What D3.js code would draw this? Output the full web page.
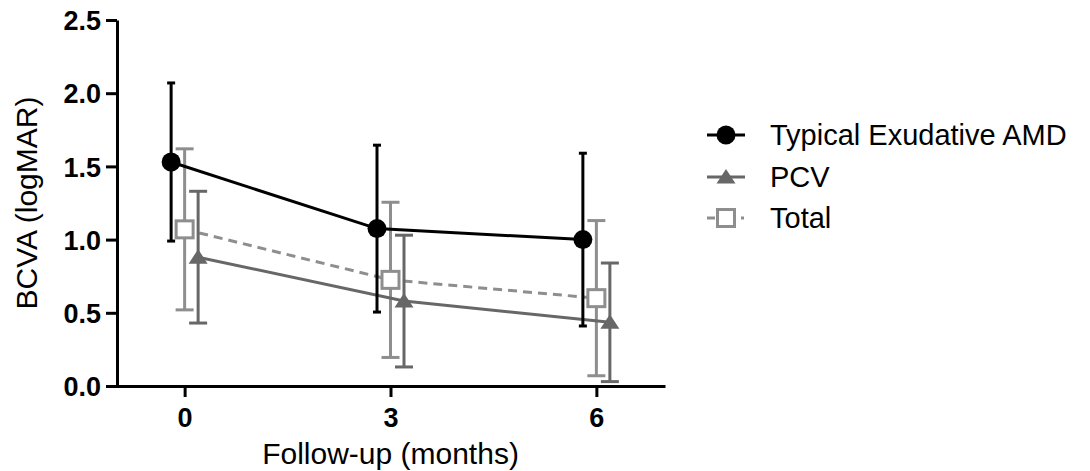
<!DOCTYPE html>
<html>
<head>
<meta charset="utf-8">
<script src="https://cdn.jsdelivr.net/npm/d3@7"></script>
<style>
	body { margin: 0; background: #fff; }
	svg { display: block; font-family: "Liberation Sans", Arial, sans-serif; }
</style>
</head>
<body>
<div id="chart"></div>
<script>
'use strict'
// data (mean +/- SD, logMAR)
var months = [0, 3, 6];
var xTicks = [0, 3, 6];
var yTicks = [0, 0.5, 1.0, 1.5, 2.0, 2.5];
var seriesNames = ["Typical Exudative AMD", "PCV", "Total"];
var typicalMean = [1.53, 1.075, 1.0];
var typicalSD = [0.54, 0.57, 0.59];
var pcvMean = [0.88, 0.58, 0.435];
var pcvSD = [0.45, 0.45, 0.405];
var totalMean = [1.07, 0.725, 0.6];
var totalSD = [0.55, 0.53, 0.53];

var W = 1090, H = 471;
var svg = d3.select("#chart").append("svg")
			.attr("width", W)
			.attr("height", H);

var x = d3.scaleLinear().domain([-1, 7]).range([116, 665]),
	y = d3.scaleLinear().domain([0, 2.5]).range([386, 20]);

// draw order: Total, PCV, Typical on top
var series = [
	{name: seriesNames[2], mean: totalMean, sd: totalSD, color: "#8e8e8e", dx: 0, cap: 18, dash: "9,6", marker: "square"},
	{name: seriesNames[1], mean: pcvMean, sd: pcvSD, color: "#676767", dx: 13.5, cap: 18, dash: null, marker: "triangle"},
	{name: seriesNames[0], mean: typicalMean, sd: typicalSD, color: "#000", dx: -13.5, cap: 8, dash: null, marker: "circle"}
];

function drawMarker(g, kind, color){
	if(kind === "circle"){
		g.append("circle").attr("r", 9.5).attr("fill", color);
	}
	else if(kind === "triangle"){
		g.append("path").attr("d", "M0,-8L9.5,6.5L-9.5,6.5Z").attr("fill", color);
	}
	else {
		g.append("rect")
			.attr("x", -8.5).attr("y", -8.5)
			.attr("width", 17).attr("height", 17)
			.attr("fill", "#fff")
			.attr("stroke", color)
			.attr("stroke-width", 3);
	}
}

var plot = svg.append("g");
series.forEach(function(s){
	var g = plot.append("g");
	var pts = months.map(function(m, i){
		return {px: x(m) + s.dx, mean: s.mean[i], sd: s.sd[i]};
	});
	// error bars
	var eb = g.selectAll(".eb").data(pts).enter().append("g").attr("class", "eb")
			.attr("stroke", s.color).attr("stroke-width", 3).attr("fill", "none");
	eb.append("line")
		.attr("x1", function(d){ return d.px; }).attr("x2", function(d){ return d.px; })
		.attr("y1", function(d){ return y(d.mean + d.sd); })
		.attr("y2", function(d){ return y(d.mean - d.sd); });
	eb.append("line")
		.attr("x1", function(d){ return d.px - s.cap/2; }).attr("x2", function(d){ return d.px + s.cap/2; })
		.attr("y1", function(d){ return y(d.mean + d.sd); })
		.attr("y2", function(d){ return y(d.mean + d.sd); });
	eb.append("line")
		.attr("x1", function(d){ return d.px - s.cap/2; }).attr("x2", function(d){ return d.px + s.cap/2; })
		.attr("y1", function(d){ return y(d.mean - d.sd); })
		.attr("y2", function(d){ return y(d.mean - d.sd); });
	// connecting line
	g.append("path")
		.datum(pts)
		.attr("fill", "none")
		.attr("stroke", s.color)
		.attr("stroke-width", 3)
		.attr("stroke-dasharray", s.dash)
		.attr("d", d3.line().x(function(d){ return d.px; }).y(function(d){ return y(d.mean); }));
	pts.forEach(function(d){
		drawMarker(g.append("g").attr("transform", "translate(" + d.px + "," + y(d.mean) + ")"), s.marker, s.color);
	});
});

// axes
var yAxis = svg.append("g")
			.attr("transform", "translate(" + 117 + ",0)")
			.call(d3.axisLeft(y).tickValues(yTicks).tickFormat(d3.format(".1f")).tickSize(11).tickSizeOuter(0));
var xAxis = svg.append("g")
			.attr("transform", "translate(0," + 386 + ")")
			.call(d3.axisBottom(x).tickValues(xTicks).tickSize(11).tickSizeOuter(0));
[xAxis, yAxis].forEach(function(a){
	a.select(".domain").attr("stroke", "#000").attr("stroke-width", 3);
	a.selectAll(".tick line").attr("stroke", "#000").attr("stroke-width", 3);
	a.selectAll(".tick text")
		.attr("fill", "#000")
		.style("font-size", "27px")
		.style("font-weight", "bold")
		.style("font-family", "'Liberation Sans', Arial, sans-serif");
});
yAxis.selectAll(".tick text").attr("x", -16).attr("dy", "0.36em");
xAxis.selectAll(".tick text").attr("y", 22).attr("dy", "0.71em");

svg.append("text")
	.attr("transform", "translate(37,203) rotate(-90)")
	.attr("text-anchor", "middle")
	.style("font-size", "30px")
	.text("BCVA (logMAR)");
svg.append("text")
	.attr("x", x(3))
	.attr("y", 464)
	.attr("text-anchor", "middle")
	.style("font-size", "30px")
	.text("Follow-up (months)");

// legend
var legendRows = [series[2], series[1], series[0]];
var rowY = [135, 177, 218];
var legend = svg.append("g").attr("transform", "translate(726,0)");
legendRows.forEach(function(s, i){
	var row = legend.append("g").attr("transform", "translate(0," + rowY[i] + ")");
	row.append("line")
		.attr("x1", -19).attr("x2", 19)
		.attr("stroke", s.color)
		.attr("stroke-width", 3)
		.attr("stroke-dasharray", s.dash ? "8,26,3,10" : null);
	drawMarker(row.append("g"), s.marker, s.color);
	row.append("text")
		.attr("x", 44)
		.attr("dy", "0.36em")
		.style("font-size", "29px")
		.text(s.name);
});
</script>
</body>
</html>
